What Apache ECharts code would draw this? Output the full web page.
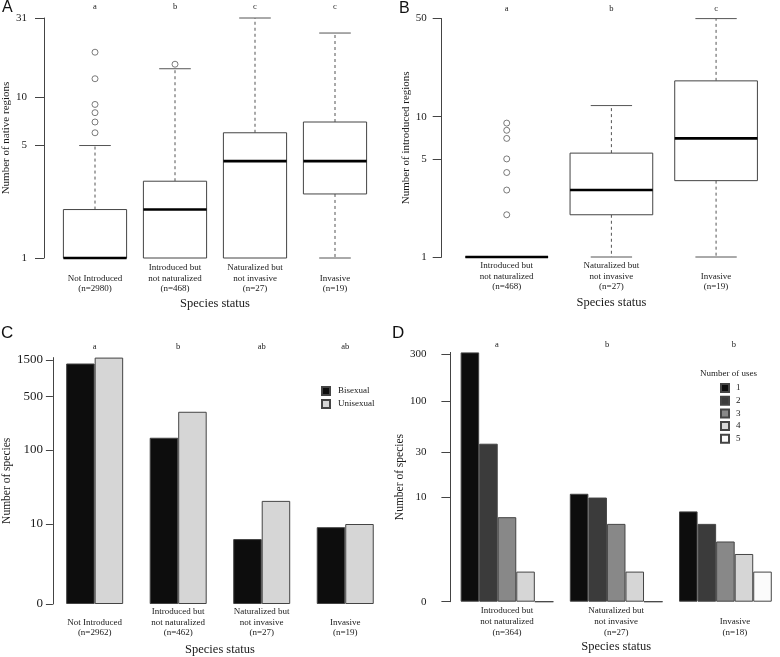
<!DOCTYPE html>
<html>
<head>
<meta charset="utf-8">
<script src="https://cdn.jsdelivr.net/npm/echarts@6/dist/echarts.min.js"></script>
<style>
  html, body { margin: 0; padding: 0; background: #fff; }
  #chart { width: 780px; height: 657px; }
</style>
</head>
<body>
<div id="chart"></div>
<script>
// panel A: native regions by status (low, q1, median, q3, high)
const catsA = ['Not Introduced\n(n=2980)', 'Introduced but\nnot naturalized\n(n=468)', 'Naturalized but\nnot invasive\n(n=27)', 'Invasive\n(n=19)'];
const lettersA = ['a', 'b', 'c', 'c'];
const boxA = [[1, 1, 1, 2, 5], [1, 1, 2, 3, 15], [1, 1, 4, 6, 31], [1, 2.5, 4, 7, 25]];
const outliersA = [[0, 6], [0, 7], [0, 8], [0, 9], [0, 13], [0, 19], [1, 16]];
const ticksA = [1, 5, 10, 31];

// panel B: introduced regions
const catsB = ['Introduced but\nnot naturalized\n(n=468)', 'Naturalized but\nnot invasive\n(n=27)', 'Invasive\n(n=19)'];
const lettersB = ['a', 'b', 'c'];
const boxB = [[1, 1, 1, 1, 1], [1, 2, 3, 5.5, 12], [1, 3.5, 7, 18, 50]];
const outliersB = [[0, 2], [0, 3], [0, 4], [0, 5], [0, 7], [0, 8], [0, 9]];
const ticksB = [1, 5, 10, 50];

// panel C: breeding system
const catsC = ['Not Introduced\n(n=2962)', 'Introduced but\nnot naturalized\n(n=462)', 'Naturalized but\nnot invasive\n(n=27)', 'Invasive\n(n=19)'];
const lettersC = ['a', 'b', 'ab', 'ab'];
const bisexual = [1350, 145, 6, 9];
const unisexual = [1612, 317, 21, 10];
const ticksC = [0, 10, 100, 500, 1500];

// panel D: number of uses
const catsD = ['Introduced but\nnot naturalized\n(n=364)', 'Naturalized but\nnot invasive\n(n=27)', 'Invasive\n(n=18)'];
const lettersD = ['a', 'b', 'b'];
const useNames = ['1', '2', '3', '4', '5'];
const uses = [[310, 11, 7], [37, 10, 5], [6, 5, 3], [1, 1, 2], [0, 0, 1]];
const useColors = ['#0d0d0d', '#3b3b3b', '#888888', '#d6d6d6', '#fbfbfb'];
const ticksD = [0, 10, 30, 100, 300];

const SERIF = 'Liberation Serif';
const INK = '#1a1a1a';
const lg = (v) => Math.log10(v);
const lg1 = (v) => Math.log10(v + 1);

const pad3 = (s) => {
  const lines = s.split('\n');
  while (lines.length < 3) lines.unshift('');
  return lines;
};

const line = (x1, y1, x2, y2, style) => ({ type: 'line', shape: { x1, y1, x2, y2 }, style });

const renderBox = (params, api) => {
  const x = api.value(0);
  const [lo, q1, md, q3, hi] = [1, 2, 3, 4, 5].map((i) => api.coord([x, api.value(i)]));
  const cx = lo[0];
  const w = api.size([1, 0])[0] * 0.79;
  const dash = { stroke: '#555', lineWidth: 1, lineDash: [3, 3] };
  const solid = { stroke: '#555', lineWidth: 1 };
  const children = [];
  if (hi[1] < q3[1] - 0.5) {
    children.push(line(cx, q3[1], cx, hi[1], dash));
    children.push(line(cx - w / 4, hi[1], cx + w / 4, hi[1], solid));
  }
  if (lo[1] > q1[1] + 0.5) {
    children.push(line(cx, q1[1], cx, lo[1], dash));
    children.push(line(cx - w / 4, lo[1], cx + w / 4, lo[1], solid));
  }
  children.push({
    type: 'rect',
    shape: { x: cx - w / 2, y: q3[1], width: w, height: q1[1] - q3[1] },
    style: { fill: '#fff', stroke: '#444', lineWidth: 1 },
  });
  children.push(line(cx - w / 2, md[1], cx + w / 2, md[1], { stroke: '#000', lineWidth: 2.6 }));
  return { type: 'group', children };
};

const bottomAxis = (gridIndex, data, margin, rich) => ({
  type: 'category',
  gridIndex,
  data,
  position: 'bottom',
  axisLine: { show: false },
  axisTick: { show: false },
  axisLabel: {
    interval: 0,
    margin,
    fontFamily: SERIF,
    fontSize: 9,
    lineHeight: 10.8,
    color: INK,
    formatter: rich
      ? (v, i) => pad3(v).map((l) => `{${i === 2 ? 'r' : 'n'}|${l || ' '}}`).join('\n')
      : (v) => pad3(v).join('\n'),
    rich: rich ? {
      n: { fontFamily: SERIF, fontSize: 9, lineHeight: 10.8, color: INK },
      r: { fontFamily: SERIF, fontSize: 9, lineHeight: 10.8, color: INK, padding: [0, 0, 0, 19] },
    } : undefined,
  },
  name: 'Species status',
  nameLocation: 'middle',
  nameGap: 39,
  nameTextStyle: { fontFamily: SERIF, fontSize: 12.5, color: INK },
});

const topAxis = (gridIndex, data, margin, shifts) => ({
  type: 'category',
  gridIndex,
  data,
  position: 'top',
  axisLine: { show: false },
  axisTick: { show: false },
  axisLabel: {
    interval: 0,
    margin,
    fontFamily: SERIF,
    fontSize: 8.5,
    color: INK,
    formatter: shifts ? (v, i) => `{s${i}|${v}}` : (v) => v,
    rich: shifts ? {
      s0: { fontFamily: SERIF, fontSize: 8.5, color: INK, padding: [0, 20, 0, 0] },
      s1: { fontFamily: SERIF, fontSize: 8.5, color: INK, padding: [0, 18, 0, 0] },
      s2: { fontFamily: SERIF, fontSize: 8.5, color: INK, padding: [0, 0, 0, 17] },
    } : undefined,
  },
});

const leftAxis = (gridIndex, opts) => ({
  type: 'value',
  gridIndex,
  min: 0,
  max: opts.max,
  offset: opts.offset,
  splitLine: { show: false },
  axisLine: { show: true, lineStyle: { color: '#444', width: 1 } },
  axisTick: { show: true, customValues: opts.ticks, length: opts.tickLen, lineStyle: { color: '#444' } },
  axisLabel: {
    customValues: opts.ticks,
    formatter: opts.fmt,
    margin: opts.margin,
    fontFamily: SERIF,
    fontSize: opts.fontSize,
    color: INK,
  },
  name: opts.name,
  nameLocation: 'middle',
  nameGap: opts.nameGap,
  nameTextStyle: { fontFamily: SERIF, fontSize: opts.nameSize, color: INK },
});

const fromLg = (v) => String(Math.round(Math.pow(10, v)));
const fromLg1 = (v) => String(Math.round(Math.pow(10, v) - 1));

const boxData = (rows) => rows.map((r, i) => [i].concat(r.map(lg)));
const outData = (rows) => rows.map(([i, v]) => [i, lg(v)]);

const panelLetter = (text, left, top, size) => ({
  text, left, top, padding: 0,
  textStyle: { fontFamily: 'Liberation Sans', fontSize: size, fontWeight: 'normal', color: '#111' },
});

const outlierSeries = (idx, rows) => ({
  type: 'scatter', xAxisIndex: idx, yAxisIndex: idx, symbol: 'circle', symbolSize: 6,
  itemStyle: { color: '#fff', borderColor: '#333', borderWidth: 0.8 }, data: outData(rows), z: 3,
});

const chart = echarts.init(document.getElementById('chart'));

const option = {
  animation: false,
  backgroundColor: '#fff',
  title: [
    panelLetter('A', 2, 0, 16),
    panelLetter('B', 399, 1, 16),
    panelLetter('C', 1, 325, 17),
    panelLetter('D', 392, 325, 17),
    {
      text: 'Number of uses', left: 700, top: 369, padding: 0,
      textStyle: { fontFamily: SERIF, fontSize: 9, fontWeight: 'normal', color: INK },
    },
  ],
  legend: [
    {
      data: ['Bisexual', 'Unisexual'], orient: 'vertical', left: 321, top: 386, padding: 0,
      itemWidth: 8, itemHeight: 8, itemGap: 3, icon: 'rect', selectedMode: false,
      textStyle: { fontFamily: SERIF, fontSize: 9, color: INK, padding: [0, 0, 0, 3] },
    },
    {
      data: useNames, orient: 'vertical', left: 720, top: 383, padding: 0,
      itemWidth: 8, itemHeight: 8, itemGap: 2.7, icon: 'rect', selectedMode: false,
      textStyle: { fontFamily: SERIF, fontSize: 9, color: INK, padding: [0, 0, 0, 2] },
    },
  ],
  grid: [
    { left: 55, top: 18, width: 320, height: 240 },
    { left: 454.4, top: 18.6, width: 314, height: 238.4 },
    { left: 45, top: 357.6, width: 342, height: 246.4 },
    { left: 452.4, top: 352.4, width: 334, height: 249.3 },
  ],
  xAxis: [
    bottomAxis(0, catsA, 4),
    bottomAxis(1, catsB, 3),
    bottomAxis(2, catsC, 2),
    bottomAxis(3, catsD, 4, true),
    topAxis(0, lettersA, 7),
    topAxis(1, lettersB, 5),
    topAxis(2, lettersC, 6),
    topAxis(3, lettersD, 3, true),
  ],
  yAxis: [
    leftAxis(0, { max: lg(31), offset: 11, ticks: ticksA.map(lg), fmt: fromLg, tickLen: 9, margin: 17, fontSize: 11,
      name: 'Number of native regions', nameGap: 29, nameSize: 11 }),
    leftAxis(1, { max: lg(50), offset: 12.7, ticks: ticksB.map(lg), fmt: fromLg, tickLen: 9, margin: 15, fontSize: 11,
      name: 'Number of introduced regions', nameGap: 29, nameSize: 11 }),
    leftAxis(2, { max: lg1(Math.max(...unisexual)), offset: 0, ticks: ticksC.map(lg1), fmt: fromLg1, tickLen: 7, margin: 10, fontSize: 13,
      name: 'Number of species', nameGap: 30, nameSize: 11.5 }),
    leftAxis(3, { max: lg1(uses[0][0]), offset: 2, ticks: ticksD.map(lg1), fmt: fromLg1, tickLen: 9, margin: 24, fontSize: 11,
      name: 'Number of species', nameGap: 30, nameSize: 11.5 }),
  ],
  series: [
    {
      type: 'custom', xAxisIndex: 0, yAxisIndex: 0, renderItem: renderBox,
      encode: { x: 0, y: [1, 2, 3, 4, 5] }, data: boxData(boxA),
    },
    outlierSeries(0, outliersA),
    {
      type: 'custom', xAxisIndex: 1, yAxisIndex: 1, renderItem: renderBox,
      encode: { x: 0, y: [1, 2, 3, 4, 5] }, data: boxData(boxB),
    },
    outlierSeries(1, outliersB),
    {
      name: 'Bisexual', type: 'bar', xAxisIndex: 2, yAxisIndex: 2, barWidth: 28.5, barGap: '0%',
      itemStyle: { color: '#0d0d0d', borderColor: '#444', borderWidth: 1 }, data: bisexual.map(lg1),
    },
    {
      name: 'Unisexual', type: 'bar', xAxisIndex: 2, yAxisIndex: 2, barWidth: 28.5, barGap: '0%',
      itemStyle: { color: '#d6d6d6', borderColor: '#444', borderWidth: 1 }, data: unisexual.map(lg1),
    },
    ...useNames.map((name, k) => ({
      name, type: 'bar', xAxisIndex: 3, yAxisIndex: 3, barWidth: 18.55, barGap: '0%',
      itemStyle: { color: useColors[k], borderColor: '#444', borderWidth: 1 },
      data: uses[k].map(lg1),
    })),
  ],
};

chart.setOption(option);
</script>
</body>
</html>
